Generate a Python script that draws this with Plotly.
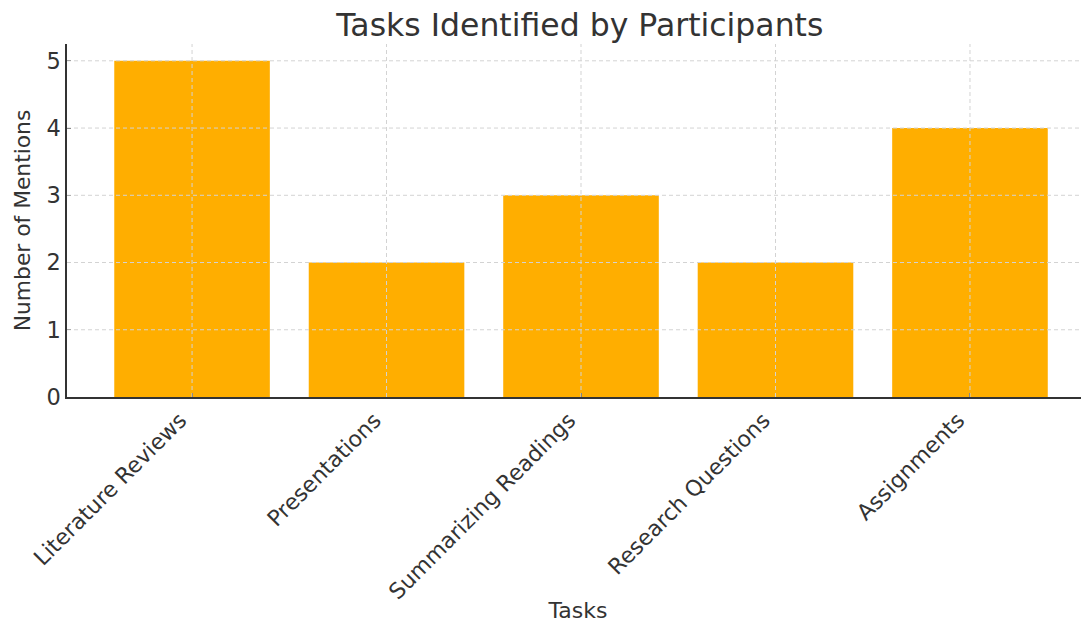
import plotly.graph_objects as go

tasks = ["Literature Reviews", "Presentations", "Summarizing Readings", "Research Questions", "Assignments"]
mentions = [5, 2, 3, 2, 4]
y_ticks = [0, 1, 2, 3, 4, 5]

font_family = "DejaVu Sans"
text_color = "#333333"
grid_color = "#d3d3d3"

fig = go.Figure()
fig.add_trace(go.Bar(
    x=list(range(len(tasks))),
    y=mentions,
    width=0.8,
    marker=dict(color="#FFAE00", line=dict(width=0)),
    hoverinfo="skip",
))

# dashed grid drawn above bars (as in reference)
for v in y_ticks[1:]:
    fig.add_shape(type="line", xref="paper", x0=0, x1=1, yref="y", y0=v, y1=v,
                  line=dict(color=grid_color, width=1, dash="4px,3px"), layer="above")
for i in range(len(tasks)):
    fig.add_shape(type="line", xref="x", x0=i, x1=i, yref="paper", y0=0, y1=1,
                  line=dict(color=grid_color, width=1, dash="4px,3px"), layer="above")

fig.update_layout(
    width=1081, height=615,
    margin=dict(l=59, r=0, t=36, b=226, autoexpand=False),
    paper_bgcolor="white", plot_bgcolor="white",
    showlegend=False,
    font=dict(family=font_family, color=text_color, size=22),
    title=dict(text="Tasks Identified by Participants", x=0.529, xanchor="center",
               y=0.972, yanchor="middle", font=dict(size=31.5, color=text_color)),
)
fig.update_xaxes(
    tickmode="array", tickvals=list(range(len(tasks))), ticktext=tasks,
    tickangle=-45, range=[-0.643, 4.612], automargin=False,
    ticklabelshift=-12,
    showline=True, linecolor="#333333", linewidth=1.5,
    ticks="inside", ticklen=4, tickcolor="#333333",
    showgrid=False, zeroline=False,
    tickfont=dict(size=22),
    title=dict(text="Tasks", font=dict(size=22), standoff=12),
)
fig.update_yaxes(
    tickmode="array", tickvals=y_ticks, range=[0, 5.25], automargin=False,
    showline=True, linecolor="#333333", linewidth=1.5,
    ticks="inside", ticklen=4, tickcolor="#333333",
    showgrid=False, zeroline=False,
    tickfont=dict(size=22.5),
    title=dict(text="Number of Mentions", font=dict(size=21.8), standoff=10),
)

fig.write_html("out.html")
